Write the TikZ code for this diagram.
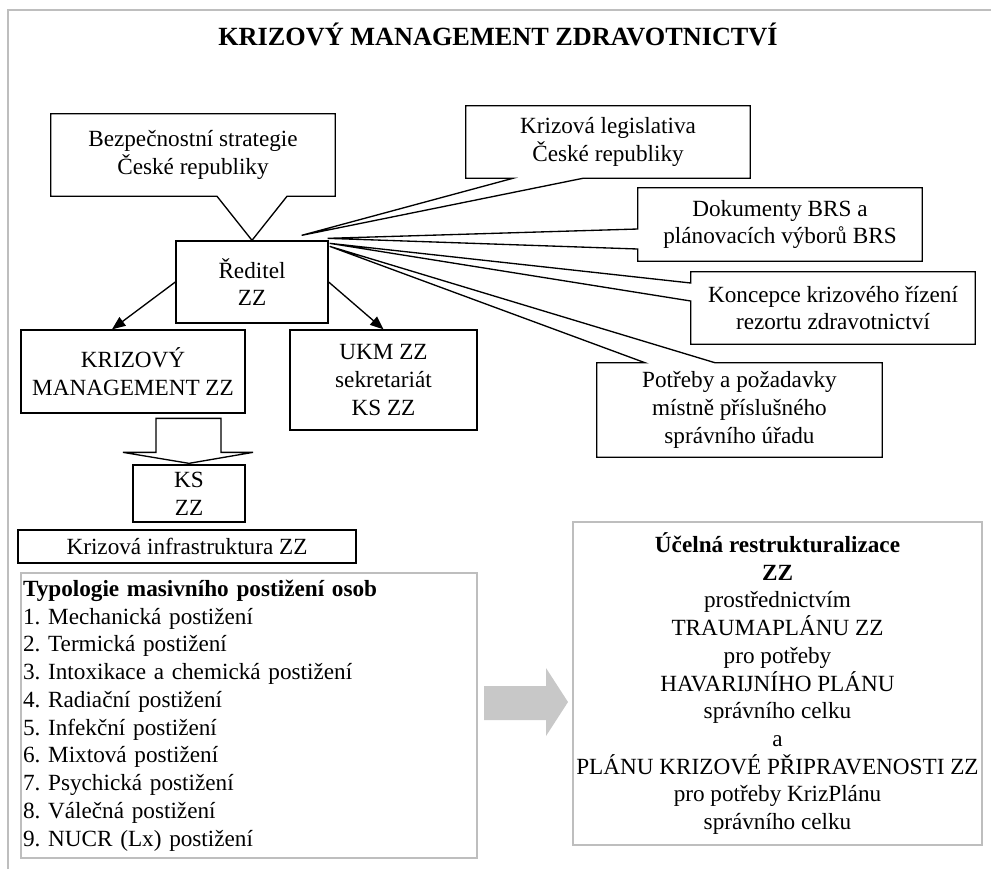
\documentclass[tikz,border=0pt]{standalone}
\usepackage{fontspec}
\setmainfont{Liberation Serif}
\usetikzlibrary{calc,arrows.meta}
\definecolor{framegrey}{RGB}{190,190,190}
\definecolor{arrowgrey}{RGB}{200,200,200}
\frenchspacing

\begin{document}
\begin{tikzpicture}[x=0.75pt,y=0.75pt,yscale=-1,xscale=1,
	font=\fontsize{17.4}{20.8}\selectfont,
	box/.style={draw,line width=1pt,inner sep=0pt,align=center},
	cbox/.style={inner sep=0pt,align=center},
	greybox/.style={draw=framegrey,line width=1.2pt,inner sep=0pt},
	outline/.style={line width=1pt},
	link/.style={line width=1pt,-{Triangle[length=10pt,width=8pt]}}]
				\useasboundingbox (0,0) rectangle (991,869);
				
				%Shape: Frame
				\draw [color=framegrey,line width=1.5pt] (8,869) -- (8,10) -- (991,10) ;
				
				% Text Node
				\node [anchor=base,font=\fontsize{19.7}{23}\selectfont\bfseries] (title) at (498,45) {KRIZOVÝ MANAGEMENT ZDRAVOTNICTVÍ};
				
				%Shape: Rectangle
				\node [box,minimum width=114pt,minimum height=61.5pt] (red) at (252,282) {Ředitel\\ZZ};
				\node [box,minimum width=168pt,minimum height=62.25pt] (km) at (133,371.5) {KRIZOVÝ\\MANAGEMENT ZZ};
				\node [box,minimum width=140.25pt,minimum height=75pt] (ukm) at (383.5,380) {UKM ZZ\\sekretariát\\KS ZZ};
				\node [box,minimum width=84pt,minimum height=42.75pt] (ks) at (189,493.5) {KS\\ZZ};
				\node [box,minimum width=253.5pt,minimum height=24.75pt] (infra) at (187,546.5) {Krizová infrastruktura ZZ};
				
				%Shape: Callouts
				\node [cbox,minimum width=213pt,minimum height=61.5pt] (bs) at (193,155) {Bezpečnostní strategie\\České republiky};
				\node [cbox,minimum width=213pt,minimum height=54pt] (leg) at (608,142) {Krizová legislativa\\České republiky};
				\node [cbox,minimum width=213pt,minimum height=54.75pt] (brs) at (780,224.5) {Dokumenty BRS a\\plánovacích výborů BRS};
				\node [cbox,minimum width=213pt,minimum height=54pt] (konc) at (833,308) {Koncepce krizového řízení\\rezortu zdravotnictví};
				\node [cbox,minimum width=213.75pt,minimum height=70.5pt] (potr) at (739.5,410) {Potřeby a požadavky\\místně příslušného\\správního úřadu};
				
				\draw [outline] (bs.north west) -- (bs.north east) -- (bs.south east) -- ($(bs.south)+(94,0)$) -- (red.north) -- ($(bs.south)+(24,0)$) -- (bs.south west) -- cycle ;
				\draw [outline] (leg.north west) -- (leg.north east) -- (leg.south east) -- ($(leg.south)+(-25,0)$) -- ($(red.north east)+(-27,-5)$) -- ($(leg.south)+(-95,0)$) -- (leg.south west) -- cycle ;
				\draw [outline] (brs.north west) -- (brs.north east) -- (brs.south east) -- (brs.south west) -- ($(brs.west)+(0,24.5)$) -- ($(red.north east)+(-1,-2)$) -- ($(brs.west)+(0,4.5)$) -- cycle ;
				\draw [outline] (konc.north west) -- (konc.north east) -- (konc.south east) -- (konc.south west) -- ($(konc.west)+(0,-7)$) -- ($(red.north east)+(1,3)$) -- ($(konc.west)+(0,-25)$) -- cycle ;
				\draw [outline] (potr.north west) -- ($(potr.north)+(-94.5,0)$) -- ($(red.north east)+(1,6)$) -- ($(potr.north)+(-24.5,0)$) -- (potr.north east) -- (potr.south east) -- (potr.south west) -- cycle ;
				
				%Straight Lines
				\draw [link] (red.west) -- ($(km.north)+(-21,0)$) ;
				\draw [link] (red.east) -- (ukm.north) ;
				
				%Shape: Down Arrow
				\draw [outline,fill=white] ($(ks.north)+(-33,-46)$) -- ($(ks.north)+(32,-46)$) -- ($(ks.north)+(32,-12)$) -- ($(ks.north)+(64,-12)$) -- ($(ks.north)+(0,-1)$) -- ($(ks.north)+(-66,-12)$) -- ($(ks.north)+(-33,-12)$) -- cycle ;
				
				%Shape: Grey boxes
				\node [greybox,text width=339pt,inner xsep=1.5pt,minimum height=213.75pt,align=left] (typ) at (249,715.5) {\textbf{Typologie masivního postižení osob}\\1. Mechanická postižení\\2. Termická postižení\\3. Intoxikace a chemická postižení\\4. Radiační postižení\\5. Infekční postižení\\6. Mixtová postižení\\7. Psychická postižení\\8. Válečná postižení\\9. NUCR (Lx) postižení};
				\node [greybox,minimum width=306.75pt,minimum height=242.25pt,align=center] (res) at (777.5,683.5) {\textbf{Účelná restrukturalizace}\\\textbf{ZZ}\\prostřednictvím\\TRAUMAPLÁNU ZZ\\pro potřeby\\HAVARIJNÍHO PLÁNU\\správního celku\\a\\PLÁNU KRIZOVÉ PŘIPRAVENOSTI ZZ\\pro potřeby KrizPlánu\\správního celku};
				
				%Shape: Right Arrow
				\fill [arrowgrey] (484,686) -- (546,686) -- (546,668) -- (568,702) -- (546,736) -- (546,720) -- (484,720) -- cycle ;
\end{tikzpicture}
\end{document}
